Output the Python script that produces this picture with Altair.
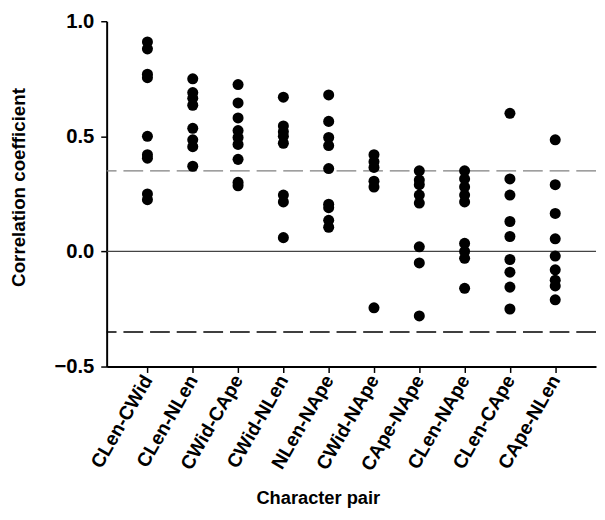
import altair as alt
import pandas as pd

pairs = ["CLen-CWid", "CLen-NLen", "CWid-CApe", "CWid-NLen", "NLen-NApe",
         "CWid-NApe", "CApe-NApe", "CLen-NApe", "CLen-CApe", "CApe-NLen"]

clen_cwid = [0.91, 0.88, 0.77, 0.755, 0.50, 0.42, 0.405, 0.25, 0.225]
clen_nlen = [0.75, 0.69, 0.665, 0.635, 0.535, 0.485, 0.455, 0.37]
cwid_cape = [0.725, 0.645, 0.58, 0.525, 0.495, 0.465, 0.40, 0.30, 0.285]
cwid_nlen = [0.67, 0.545, 0.52, 0.50, 0.47, 0.245, 0.215, 0.06]
nlen_nape = [0.68, 0.565, 0.495, 0.46, 0.36, 0.205, 0.19, 0.135, 0.105]
cwid_nape = [0.42, 0.39, 0.365, 0.305, 0.28, -0.245]
cape_nape = [0.35, 0.31, 0.29, 0.245, 0.21, 0.02, -0.05, -0.28]
clen_nape = [0.35, 0.315, 0.28, 0.245, 0.215, 0.035, 0.0, -0.03, -0.16]
clen_cape = [0.60, 0.315, 0.245, 0.13, 0.065, -0.035, -0.09, -0.155, -0.25]
cape_nlen = [0.485, 0.29, 0.165, 0.055, -0.02, -0.08, -0.125, -0.15, -0.21]

series = [clen_cwid, clen_nlen, cwid_cape, cwid_nlen, nlen_nape,
          cwid_nape, cape_nape, clen_nape, clen_cape, cape_nlen]

thresholds_upper = [0.35]
thresholds_lower = [-0.35]
zero_line = [0.0]

rows = []
for name, vals in zip(pairs, series):
    for v in vals:
        rows.append({"pair": name, "r": v})
df = pd.DataFrame(rows)

FONT = "Liberation Sans"

yscale = alt.Scale(domain=[-0.5, 1.0], nice=False, zero=False)

points = alt.Chart(df).mark_circle(size=125, color="black", opacity=1).encode(
    x=alt.X("pair:N", sort=pairs,
            scale=alt.Scale(type="point", padding=0.9, domain=pairs),
            axis=alt.Axis(title="Character pair", labelAngle=-60,
                          labelFont=FONT, labelFontSize=19.5, labelFontWeight="bold",
                          labelColor="black",
                          titleFont=FONT, titleFontSize=18.5, titleFontWeight="bold",
                          titleColor="black", titlePadding=15, titleX=214,
                          tickSize=6, tickWidth=1.5, tickColor="black",
                          domainColor="black", domainWidth=2, labelPadding=4)),
    y=alt.Y("r:Q", scale=yscale,
            axis=alt.Axis(title="Correlation coefficient", values=[-0.5, 0, 0.5, 1.0],
                          format=".1f",
                          labelFont=FONT, labelFontSize=20.5, labelFontWeight="bold",
                          labelColor="black",
                          titleFont=FONT, titleFontSize=19, titleFontWeight="bold",
                          titleColor="black", titlePadding=26, titleY=168,
                          tickSize=6, tickWidth=1.5, tickColor="black",
                          domainColor="black", domainWidth=2, labelPadding=7)),
)

upper = alt.Chart(pd.DataFrame({"y": thresholds_upper})).mark_rule(
    color="#808080", strokeWidth=1.5, strokeDash=[20, 7]).encode(y=alt.Y("y:Q", scale=yscale))
lower = alt.Chart(pd.DataFrame({"y": thresholds_lower})).mark_rule(
    color="black", strokeWidth=1.3, strokeDash=[20, 7]).encode(y=alt.Y("y:Q", scale=yscale))
zero = alt.Chart(pd.DataFrame({"y": zero_line})).mark_rule(
    color="#444444", strokeWidth=1.3).encode(y=alt.Y("y:Q", scale=yscale))

chart = alt.layer(upper, lower, zero, points).properties(
    width=496, height=350,
    padding={"left": 1, "top": 0, "right": 0, "bottom": 0},
).configure_view(stroke=None).configure_axis(grid=False)

chart.save("out.html", embed_options={"renderer": "svg", "actions": False})
